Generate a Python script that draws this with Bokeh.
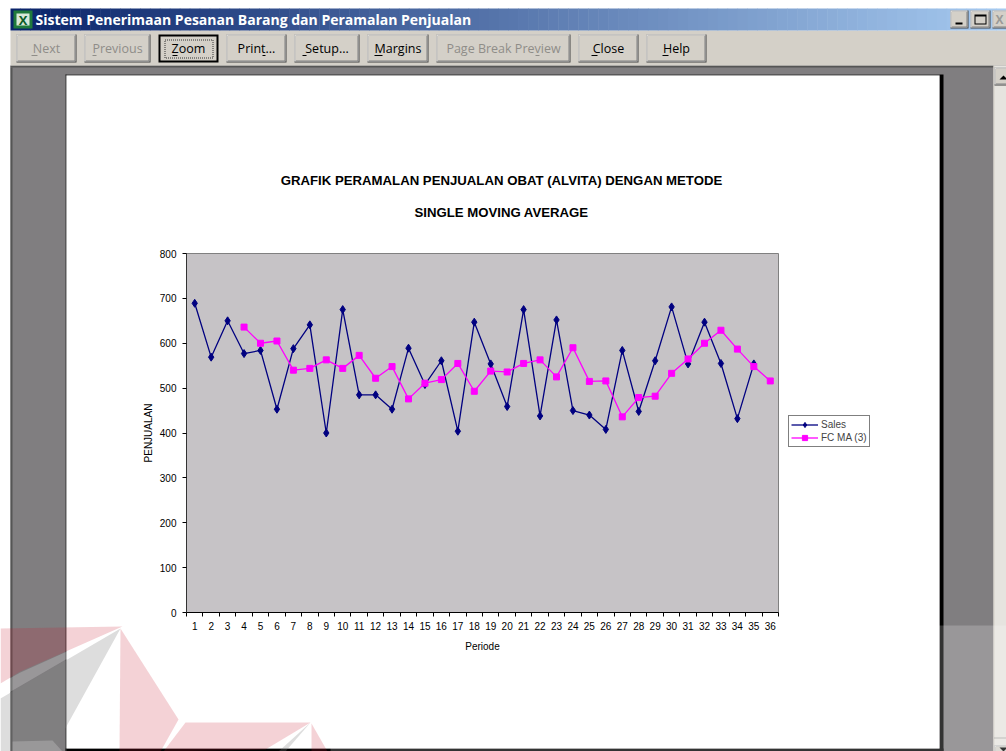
from bokeh.plotting import figure
from bokeh.embed import file_html
from bokeh.resources import INLINE
from bokeh.core.properties import value
from bokeh.models import ColumnDataSource, FixedTicker, Legend, LegendItem, Range1d

periods = list(range(1, 37))
sales = [689, 569, 650, 577, 584, 453, 588, 641, 400, 675, 485, 485, 453, 589, 508, 561, 404, 647,
         554, 459, 675, 438, 652, 450, 440, 408, 584, 448, 561, 681, 554, 647, 555, 432, 554]
sales_periods = periods[:35]
fc_ma_3 = [636, 600, 605, 540, 544, 563, 544, 573, 522, 548, 476, 511, 519, 555, 493, 538, 536, 555,
           563, 525, 590, 515, 516, 436, 479, 482, 533, 565, 600, 629, 587, 548, 516]
fc_periods = periods[3:]
y_ticks = [0, 100, 200, 300, 400, 500, 600, 700, 800]
title_lines = ["GRAFIK PERAMALAN PENJUALAN OBAT (ALVITA) DENGAN METODE", "SINGLE MOVING AVERAGE"]

W, H = 1006, 751
CHART_FONT = "Liberation Sans"
UI_FONT = "Open Sans"
FACE = "#d4d0c8"
NAVY, MAG = "#000080", "#ff00ff"

# ---------- window behind the chart ----------
bg = figure(width=W, height=H, output_backend="svg", toolbar_location=None, x_axis_type=None, y_axis_type=None,
            x_range=Range1d(0, W), y_range=Range1d(H, 0), min_border=0)
bg.styles = {"position": "absolute", "left": "0px", "top": "0px"}
bg.outline_line_color = None
bg.background_fill_color = "white"
bg.border_fill_color = "white"
bg.grid.visible = False

rects = dict(left=[], right=[], top=[], bottom=[], color=[], alpha=[])


def box(x0, y0, x1, y1, fill, alpha=1.0):
    rects["left"].append(x0)
    rects["right"].append(x1)
    rects["top"].append(y0)
    rects["bottom"].append(y1)
    rects["color"].append(fill)
    rects["alpha"].append(alpha)


def bevel(x0, y0, x1, y1):
    box(x0, y0, x1, y1, "#404040")
    box(x0, y0, x1 - 1, y1 - 1, "white")
    box(x0 + 1, y0 + 1, x1 - 1, y1 - 1, "#808080")
    box(x0 + 1, y0 + 1, x1 - 2, y1 - 2, FACE)


# work area
box(10, 65, W, H, "#807e80")
box(10, 65, W, 67, "#555555")
box(10, 67, 12, H, "#555555")
# toolbar, title bar
box(10, 30, W, 65, FACE)
steps = 100
c0, c1 = (10, 36, 106), (166, 202, 240)
for i in range(steps):
    t = i / (steps - 1)
    col = "#%02x%02x%02x" % tuple(int(a + (b - a) * t) for a, b in zip(c0, c1))
    box(10 + 996 * i / steps, 8, 10 + 996 * (i + 1) / steps + 0.5, 30, col)
# icon
box(13, 10, 32, 28, "#1f7a3c")
box(16, 13, 29, 25, "#d8e8d8")

buttons = [(16, 76, "Next", False, 31, 37), (84, 150, "Previous", False, 92, 96), (158, 218, "Zoom", True, 172, 177),
           (226, 286, "Print...", True, 262, 265), (294, 359, "Setup...", True, 302, 306),
           (367, 428, "Margins", True, 374, 382), (436, 570, "Page Break Preview", False, 535, 539),
           (578, 638, "Close", True, 591, 597), (646, 706, "Help", True, 662, 668)]
for x0, x1, txt, on, u0, u1 in buttons:
    if txt == "Zoom":
        box(x0, 34, x1, 62, "black")
        box(x0 + 2, 36, x1 - 2, 60, FACE)
    else:
        bevel(x0, 34, x1, 62)
    box(u0, 54.5, u1, 55.5, "black" if on else "#8f8d88")

# window controls
for x0, x1 in [(950, 968), (970, 990), (992, 1012)]:
    bevel(x0, 10, x1, 28)
box(955, 22, 962, 24, "black")
box(974, 14, 986, 24, "black")
box(975, 16, 985, 23, FACE)

# page
box(939, 74, 943, H, "black")
box(65, 748, 943, H, "black")
box(65, 74, 939, 75, "#333333")
box(65, 74, 66, H, "#333333")
box(66, 75, 939, 748, "white")

# scrollbar
box(993, 65, W, H, "#e6e4df")
box(993, 65, 994, H, "#d4d0c8")
bevel(994, 67, 1009, 85)
bevel(994, 745, 1009, 756)
bg.quad(left="left", right="right", top="top", bottom="bottom", fill_color="color", fill_alpha="alpha", line_color=None,
        source=ColumnDataSource(rects))

# focus rectangle of the Zoom button, scrollbar arrows
bg.quad(left=[164.5], right=[212.5], top=[39.5], bottom=[57.5], fill_color=None, line_color="#333333", line_dash="1 1")
bg.line([994, 1006], [737.5, 737.5], line_color="#777777", line_dash="1 1")
bg.patch([999, 1003, 1007], [79, 75, 79], fill_color="black", line_color=None)
bg.patch([999, 1003, 1007], [747, 751, 747], fill_color="black", line_color=None)


def label(x, y, text, size="12.5px", color="black", font=UI_FONT, style="normal", align="center"):
    bg.text([x], [y], text=[text], text_font=value(font), text_font_size=size, text_color=color,
            text_font_style=style, text_align=align, text_baseline="middle")


label(22.5, 19, "X", size="13px", color="#0d5c28", style="bold")
label(35, 19, "Sistem Penerimaan Pesanan Barang dan Peramalan Penjualan", size="14px", color="white", style="bold", align="left")
label(999, 19, "X", size="12px", color="#9a9a98", style="bold")
for x0, x1, txt, on, u0, u1 in buttons:
    label((x0 + x1) / 2, 48, txt, color="black" if on else "#8f8d88")
label(501, 180, title_lines[0], size="13.2px", font=CHART_FONT, style="bold")
label(501, 212, title_lines[1], size="13.2px", font=CHART_FONT, style="bold")

# watermark
RED, GREY = "#c81e32", "#828282"
bg.quad(left=[330], right=[W], top=[625], bottom=[H], fill_color="white", fill_alpha=0.2, line_color=None)


def poly(pts, fill, alpha):
    bg.patch([a for a, b in pts], [b for a, b in pts], fill_color=fill, fill_alpha=alpha, line_color=None)


poly([(0, 628), (122, 626), (20, 671), (0, 683)], RED, 0.2)
poly([(122, 626), (20, 672), (0, 683), (0, 697)], "white", 0.2)
poly([(120, 628), (0, 698), (0, 751), (55, 751), (62, 733)], GREY, 0.27)
poly([(12, 741), (52, 740), (62, 751), (12, 751)], "white", 0.2)
poly([(120, 628), (178, 719), (160, 751), (119, 751)], RED, 0.2)
poly([(185, 722), (310, 722), (265, 749), (163, 751)], RED, 0.2)
poly([(311, 723), (327, 751), (311, 751)], RED, 0.2)
poly([(310, 722), (285, 751), (278, 751)], GREY, 0.27)

# legend (sits beside the plot area, so it lives on the full-window layer);
# its key renderers lie outside the visible range
off_x, off_y = [-30, -20], [-30, -30]
k1 = bg.line(off_x, off_y, line_color=NAVY, line_width=1.3)
k1m = bg.scatter(off_x, off_y, marker="diamond", size=8, fill_color=NAVY, line_color=NAVY)
k2 = bg.line(off_x, off_y, line_color=MAG, line_width=1.3)
k2m = bg.scatter(off_x, off_y, marker="square", size=6, fill_color=MAG, line_color=MAG)
legend = Legend(items=[LegendItem(label="Sales", renderers=[k1, k1m]), LegendItem(label="FC MA (3)", renderers=[k2, k2m])],
                location=(788, 304), border_line_color="black", border_line_width=1.5, background_fill_color="white",
                background_fill_alpha=1.0, margin=0, padding=2, spacing=0, glyph_width=27, glyph_height=13,
                label_height=13, label_standoff=3, label_text_font=CHART_FONT, label_text_font_size="10px")
bg.add_layout(legend)

# ---------- the chart ----------
p = figure(width=W, height=H, output_backend="svg", toolbar_location=None,
           x_range=Range1d(0.5, 36.5), y_range=Range1d(0, 800),
           min_border_left=186, min_border_right=228, min_border_top=253, min_border_bottom=139)
p.styles = {"position": "absolute", "left": "0px", "top": "0px"}
p.background_fill_color = "#c6c3c6"
p.border_fill_color = None
p.outline_line_color = "#808080"
p.grid.visible = False

ax = p.xaxis[0]
ax.ticker = FixedTicker(ticks=periods, minor_ticks=[v - 0.5 for v in periods] + [36.5])
ax.major_tick_line_color = None
ax.major_tick_out = 0
ax.major_tick_in = 0
ax.minor_tick_line_color = "black"
ax.minor_tick_out = 4
ax.minor_tick_in = 0
ax.axis_line_color = "black"
ax.major_label_text_font = CHART_FONT
ax.major_label_text_font_size = "10px"
ax.major_label_text_color = "black"
ax.major_label_standoff = 5
ax.axis_label = "Periode"
ax.axis_label_text_font = CHART_FONT
ax.axis_label_text_font_size = "10px"
ax.axis_label_text_font_style = "normal"
ax.axis_label_text_color = "black"
ax.axis_label_standoff = 8

ay = p.yaxis[0]
ay.ticker = FixedTicker(ticks=y_ticks)
ay.minor_tick_line_color = None
ay.major_tick_line_color = "black"
ay.major_tick_out = 4
ay.major_tick_in = 0
ay.axis_line_color = "#333333"
ay.major_label_text_font = CHART_FONT
ay.major_label_text_font_size = "10px"
ay.major_label_text_color = "black"
ay.major_label_standoff = 6
ay.axis_label = "PENJUALAN"
ay.axis_label_text_font = CHART_FONT
ay.axis_label_text_font_size = "10px"
ay.axis_label_text_font_style = "normal"
ay.axis_label_text_color = "black"
ay.axis_label_standoff = 3

p.line(sales_periods, sales, line_color=NAVY, line_width=1.3)
p.scatter(sales_periods, sales, marker="diamond", size=8, fill_color=NAVY, line_color=NAVY)
p.line(fc_periods, fc_ma_3, line_color=MAG, line_width=1.3)
p.scatter(fc_periods, fc_ma_3, marker="square", size=6, fill_color=MAG, line_color=MAG)

open("out.html", "w").write(file_html([bg, p], INLINE))
